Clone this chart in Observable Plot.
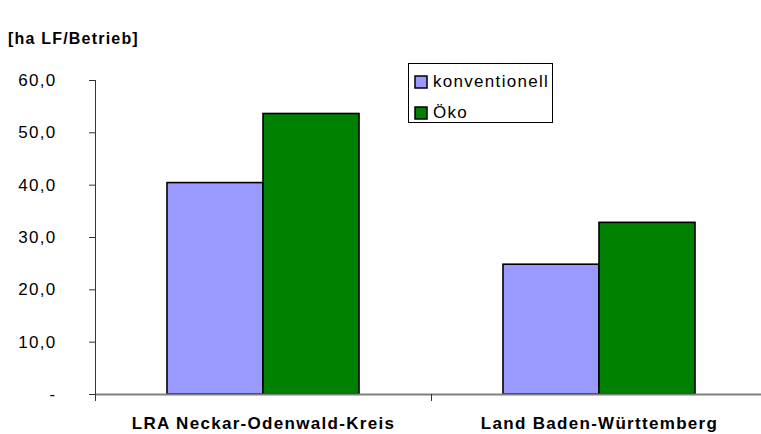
<!DOCTYPE html>
<html>
<head>
<meta charset="utf-8">
<script src="https://cdn.jsdelivr.net/npm/d3@7"></script>
<script src="https://cdn.jsdelivr.net/npm/@observablehq/plot@0.6"></script>
<style>
  body { margin: 0; background: #fff; font-family: "Liberation Sans", Arial, sans-serif; }
  #wrap { position: relative; width: 761px; height: 434px; overflow: hidden; background: #fff; }
  #chart { position: absolute; left: 0; top: 0; }
  #title { position: absolute; left: 8px; top: 31px; font-size: 16px; line-height: 16px; font-weight: bold; letter-spacing: 1.2px; color: #000; }
  #legend { position: absolute; left: 408px; top: 63px; width: 145px; height: 60px; box-sizing: border-box;
            border: 1px solid #000; background: #fff; padding: 2px 0 0 6px; overflow: visible; }
  #legend > div { font-family: "Liberation Sans", Arial, sans-serif !important; font-size: 17px !important; letter-spacing: 1.3px; color: #000; margin: 0 !important; min-height: 0 !important; display: block !important; columns: auto !important; }
  #legend > div > div { display: flex !important; align-items: center; height: 31px; margin: 0 !important; padding: 0 !important; line-height: 31px; }
  #legend svg { overflow: visible; margin-right: 6px !important; flex-shrink: 0; }
  #legend svg rect { stroke: #000; stroke-width: 1.5px; }
</style>
</head>
<body>
<div id="wrap">
  <div id="chart"></div>
  <div id="title"></div>
  <div id="legend"></div>
</div>
<script>
const titleText = "[ha LF/Betrieb]";
const categories = ["LRA Neckar-Odenwald-Kreis", "Land Baden-Württemberg"];
const series = ["konventionell", "Öko"];
const konventionell = [40.4, 24.8];
const oeko = [53.6, 32.8];
const yTicks = [0, 10, 20, 30, 40, 50, 60];
const colors = ["#9999FF", "#008000"];

const seriesValues = [konventionell, oeko];
const data = categories.flatMap((c, i) =>
  series.map((s, j) => ({category: c, series: s, value: seriesValues[j][i]}))
);

document.getElementById("title").textContent = titleText;

const H = 434, MT = 80, MB = 40;

const chart = Plot.plot({
  width: 761,
  height: H,
  marginTop: MT,
  marginBottom: MB,
  marginLeft: 95,
  marginRight: -6,
  style: {fontFamily: "Liberation Sans, Arial, sans-serif", fontSize: "17px", letterSpacing: "1.3px", color: "#000", background: "#fff", overflow: "hidden"},
  fx: {domain: categories, padding: 0, label: null},
  x: {domain: series, paddingInner: 0, paddingOuter: 0.75, axis: null},
  y: {domain: [0, 60], label: null},
  color: {domain: series, range: colors},
  marks: [
    Plot.barY(data, {fx: "category", x: "series", y: "value", fill: "series", stroke: "#000", strokeWidth: 1.6}),
    Plot.ruleY([0], {stroke: "#808080", strokeWidth: 2}),
    Plot.frame({anchor: "left", stroke: "#333", strokeWidth: 1, insetBottom: -6, facetAnchor: "left"}),
    Plot.frame({anchor: "left", stroke: "#333", strokeWidth: 1, insetTop: H - MT - MB, insetBottom: -6}),
    Plot.axisY({
      ticks: yTicks,
      tickFormat: d => d === 0 ? "-" : d.toFixed(1).replace(".", ","),
      tickSize: 6,
      tickPadding: 33,
      stroke: "#333",
      label: null
    }),
    Plot.axisFx({anchor: "bottom", tickSize: 0, tickPadding: 22, fontWeight: "bold", label: null})
  ]
});
document.getElementById("chart").appendChild(chart);

const legend = Plot.legend({
  color: {domain: series, range: colors},
  legend: "swatches",
  columns: 1,
  swatchSize: 12
});
document.getElementById("legend").appendChild(legend);
</script>
</body>
</html>
